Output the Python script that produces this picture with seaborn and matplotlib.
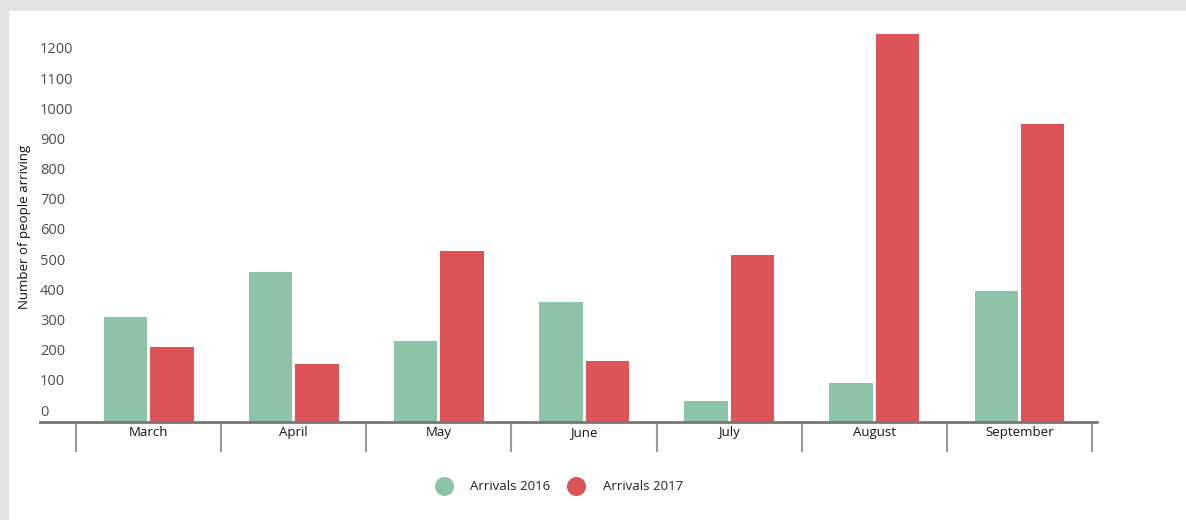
import numpy as np
import pandas as pd
import matplotlib.pyplot as plt
import matplotlib.transforms as mtransforms
from matplotlib.lines import Line2D
from matplotlib.patches import Rectangle
import seaborn as sns

# ── Data ──────────────────────────────────────────────────────────────────────
MONTHS        = ['March', 'April', 'May', 'June', 'July', 'August', 'September']
ARRIVALS_2016 = [347, 497, 269, 399, 70, 128, 435]
ARRIVALS_2017 = [248, 192, 566, 202, 553, 1285, 988]
SERIES        = ['Arrivals 2016', 'Arrivals 2017']
Y_TICKS       = list(range(0, 1300, 100))

GREEN = '#8dc4a8'
RED   = '#dc5358'

W, H = 1186, 520


def main():
    sns.set_theme(style='white')
    plt.rcParams['font.family'] = ['Open Sans', 'DejaVu Sans']

    df = pd.DataFrame({
        'month':  MONTHS * 2,
        'series': [SERIES[0]] * len(MONTHS) + [SERIES[1]] * len(MONTHS),
        'value':  ARRIVALS_2016 + ARRIVALS_2017,
    })

    fig = plt.figure(figsize=(W / 100, H / 100), dpi=100, facecolor='#e3e3e3')
    fig.add_artist(Rectangle((9 / W, 0), 1, (H - 11) / H, transform=fig.transFigure,
                             facecolor='white', edgecolor='none', zorder=-10))

    ax = fig.add_axes([40 / W, (H - 422) / H, (1097 - 40) / W, (422 - 29.8) / H])
    ax.patch.set_alpha(0)

    sns.barplot(data=df, x='month', y='value', hue='series', palette=[GREEN, RED],
                width=0.64, gap=0.065, saturation=1, linewidth=0, errorbar=None,
                legend=False, ax=ax)

    ax.set_xlim(-0.748, 6.534)
    ax.set_ylim(0, 1300)
    ax.set_xlabel('')
    ax.set_ylabel('')

    # x axis: long ticks on category boundaries, month names centred
    ax.set_xticks(np.arange(-0.5, len(MONTHS)), labels=[])
    ax.set_xticks(range(len(MONTHS)), labels=MONTHS, minor=True)
    ax.tick_params(axis='x', which='major', length=21.6, width=1.5,
                   color='#9a9a9a', direction='out', bottom=True)
    ax.tick_params(axis='x', which='minor', length=0, pad=3,
                   labelsize=9.5, labelcolor='#151515', bottom=True)

    # y axis: no line, labels left-aligned and sitting a bit above their value
    ax.set_yticks([])
    ytrans = mtransforms.offset_copy(ax.get_yaxis_transform(), fig=fig,
                                     x=0, y=10, units='dots')
    for v in Y_TICKS:
        ax.text(0, v, str(v), transform=ytrans, ha='left', va='center',
                fontsize=10.5, color='#4d4d4d')

    for side in ['top', 'right', 'left']:
        ax.spines[side].set_visible(False)
    ax.spines['bottom'].set_color('#777777')
    ax.spines['bottom'].set_linewidth(2)

    fig.text(25 / W, 1 - 227 / H, 'Number of people arriving', rotation=90,
             ha='center', va='center', fontsize=9.5, color='#111111')

    handles = [Line2D([], [], marker='o', ls='', markersize=13.7,
                      markerfacecolor=c, markeredgewidth=0) for c in (GREEN, RED)]
    fig.legend(handles, SERIES, loc='center', bbox_to_anchor=(560 / W, 1 - 487 / H),
               ncol=2, frameon=False, fontsize=9.5, handlelength=1.0,
               handletextpad=1.5, columnspacing=1.45, labelcolor='#222222')

    fig.savefig('out.png', dpi=100, facecolor=fig.get_facecolor())


if __name__ == '__main__':
    main()
